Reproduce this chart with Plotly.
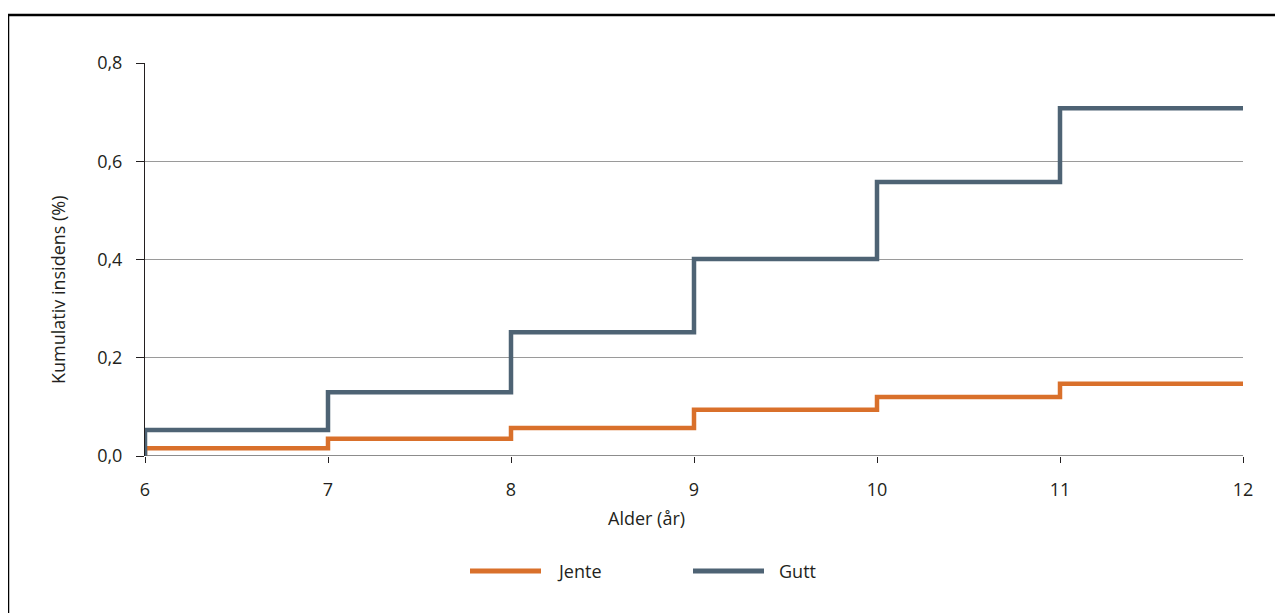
import plotly.graph_objects as go

ages = [6, 7, 8, 9, 10, 11, 12]
jente = [0.016, 0.035, 0.057, 0.094, 0.120, 0.147, 0.147]
gutt = [0.053, 0.130, 0.252, 0.401, 0.558, 0.708, 0.708]
series_names = ["Jente", "Gutt"]
colors = ["#D9702B", "#4E6374"]
y_ticks = [0.0, 0.2, 0.4, 0.6, 0.8]

OFF = 8  # page body margin
W, H = 1283 - OFF, 613 - OFF
L, R, T, B = 145 - OFF, 40, 63 - OFF, 613 - 456
pw, ph = W - L - R, H - T - B

def px_x(x):
    return (x - OFF - L) / pw

def px_y(y):
    return (H - B - (y - OFF)) / ph

fig = go.Figure()
for name, vals, col in zip(series_names, [jente, gutt], colors):
    xs = [ages[0]] + ages
    ys = [0.0] + vals
    fig.add_trace(go.Scatter(x=xs, y=ys, mode="lines", name=name,
                             line=dict(color=col, width=4.5, shape="hv"),
                             showlegend=False))

font = "Open Sans, Lato, sans-serif"
FS = 18
fig.update_layout(
    width=W, height=H,
    margin=dict(l=L, r=R, t=T, b=B),
    paper_bgcolor="white", plot_bgcolor="white",
    separators=", ",
    font=dict(family=font, size=FS, color="#231F20"),
    showlegend=False,
)
fig.update_xaxes(range=[6, 12], tickvals=ages, ticks="outside", ticklen=6,
                 tickcolor="#231F20", tickwidth=1, showgrid=False,
                 showline=False, zeroline=False, ticklabelstandoff=11,
                 tickfont=dict(size=FS))
fig.update_yaxes(range=[0, 0.8], tickvals=y_ticks, tickformat=".1f",
                 ticks="outside", ticklen=8, tickcolor="#231F20", tickwidth=1,
                 showgrid=True, gridcolor="#9A9A9A", gridwidth=1,
                 showline=True, linecolor="#231F20", linewidth=1,
                 zeroline=False, ticklabelstandoff=10, tickfont=dict(size=FS))

# x baseline (gray axis line)
fig.add_shape(type="line", xref="paper", yref="y", x0=0, x1=1, y0=0, y1=0,
              line=dict(color="#8C8C8C", width=2), layer="below")

# axis titles
fig.add_annotation(text="Alder (år)", xref="paper", yref="paper",
                   x=px_x(646), y=px_y(518), showarrow=False,
                   font=dict(size=FS), xanchor="center", yanchor="middle")
fig.add_annotation(text="Kumulativ insidens (%)", xref="paper", yref="paper",
                   x=px_x(58), y=px_y(290), showarrow=False, textangle=-90,
                   font=dict(size=FS), xanchor="center", yanchor="middle")

# legend
leg = [(470, 541, 555), (693, 764, 777)]
for (x0, x1, xt), name, col in zip(leg, series_names, colors):
    fig.add_shape(type="line", xref="paper", yref="paper",
                  x0=px_x(x0), x1=px_x(x1), y0=px_y(571), y1=px_y(571),
                  line=dict(color=col, width=5))
    fig.add_annotation(text=name, xref="paper", yref="paper",
                       x=px_x(xt), y=px_y(571), showarrow=False,
                       xanchor="left", yanchor="middle", font=dict(size=FS))

# frame
fig.add_shape(type="rect", xref="paper", yref="paper",
              x0=px_x(8), x1=px_x(1295), y0=px_y(15), y1=px_y(640),
              line=dict(color="black", width=2.5), fillcolor="rgba(0,0,0,0)")

fig.write_html("out.html")
